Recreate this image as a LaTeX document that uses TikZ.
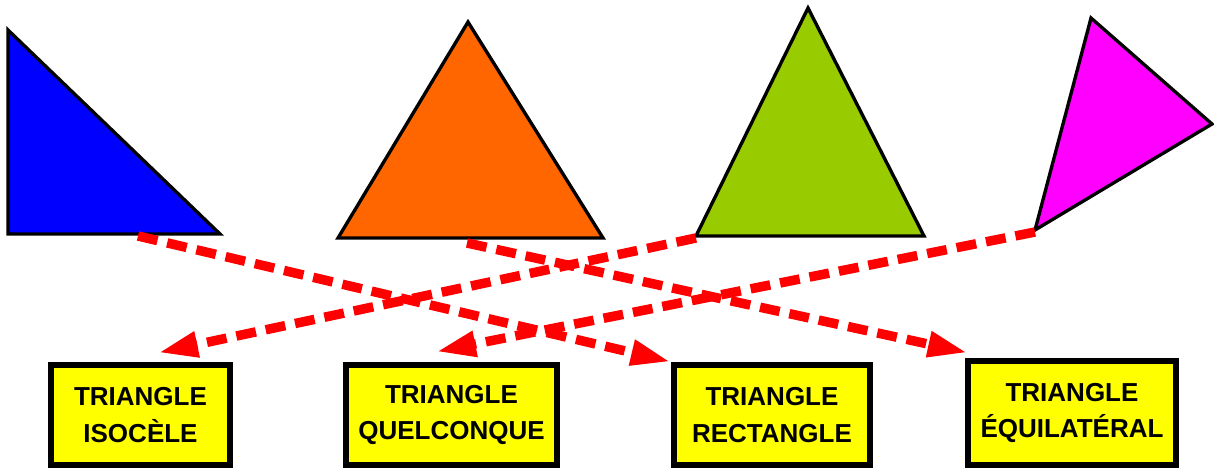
\documentclass[tikz,border=0pt]{standalone}
\usepackage{fontspec}
\setmainfont{Liberation Sans}
\usetikzlibrary{arrows.meta}
\definecolor{triblue}{RGB}{0,0,255}
\definecolor{triorange}{RGB}{255,102,0}
\definecolor{trigreen}{RGB}{153,204,0}
\definecolor{trimagenta}{RGB}{255,0,255}
\definecolor{boxyellow}{RGB}{255,255,0}
\definecolor{linkred}{RGB}{255,0,0}
\begin{document}
\begin{tikzpicture}[
        font=\bfseries\fontsize{14.8}{21}\selectfont,
        shapeline/.style={draw=black, line width=1.9pt, line join=miter},
        labelbox/.style={draw=black, fill=boxyellow, line width=3.7pt, minimum height=20mm, align=center, inner sep=0pt},
        matcharrow/.style={linkred, line width=5.4pt, dash pattern=on 0.4cm off 0.2cm, -{Triangle[length=0.8cm, width=0.48cm]}}
    ]
        \useasboundingbox (0,0) rectangle (24.28,-9.36);

        \draw[shapeline, fill=triblue]
            (0.16,-0.60) -- (0.16,-4.68) -- (4.40,-4.68) -- cycle;
        \draw[shapeline, fill=triorange]
            (6.76,-4.76) -- (9.36,-0.44) -- (12.06,-4.76) -- cycle;
        \draw[shapeline, fill=trigreen]
            (13.92,-4.72) -- (16.16,-0.16) -- (18.48,-4.72) -- cycle;
        \draw[shapeline, fill=trimagenta]
            (21.82,-0.36) -- (24.24,-2.48) -- (20.70,-4.60) -- cycle;

        \coordinate (blueBase) at (2.76,-4.72);
        \coordinate (orangeBase) at (9.34,-4.86);
        \coordinate (greenBase) at (13.92,-4.76);
        \coordinate (magentaBase) at (20.70,-4.64);

        \node[labelbox, minimum width=35.8mm]
            (isocele) at (2.81,-8.30)
            {TRIANGLE\\ISOCÈLE};
        \node[labelbox, minimum width=42.2mm]
            (quelconque) at (9.03,-8.30)
            {TRIANGLE\\QUELCONQUE};
        \node[labelbox, minimum width=39.2mm]
            (rectangle) at (15.44,-8.30)
            {TRIANGLE\\RECTANGLE};
        \node[labelbox, minimum width=41.6mm, minimum height=20.8mm]
            (equilateral) at (21.44,-8.26)
            {TRIANGLE\\ÉQUILATÉRAL};

        \draw[matcharrow]
            (blueBase) -- (rectangle.north west);
        \draw[matcharrow]
            (orangeBase) -- ([xshift=0.06cm, yshift=0.1cm]equilateral.north west);
        \draw[matcharrow]
            (greenBase) -- ([xshift=0.35cm, yshift=0.18cm]isocele.north);
        \draw[matcharrow]
            (magentaBase) -- ([xshift=-0.31cm, yshift=0.2cm]quelconque.north);
    \end{tikzpicture}
\end{document}
